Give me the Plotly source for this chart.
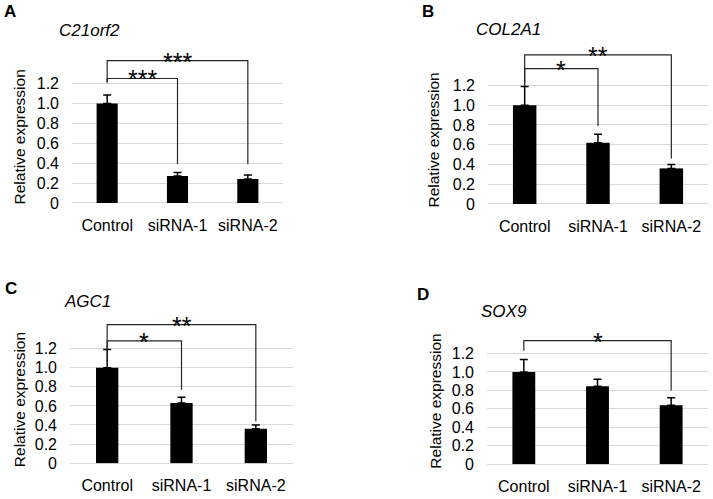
import plotly.graph_objects as go

# ---------------- data ----------------
categories = ["Control", "siRNA-1", "siRNA-2"]
y_ticks = [0, 0.2, 0.4, 0.6, 0.8, 1.0, 1.2]
y_tick_labels = ["0", "0.2", "0.4", "0.6", "0.8", "1.0", "1.2"]

panel_letters = ["A", "B", "C", "D"]
gene_names = ["C21orf2", "COL2A1", "AGC1", "SOX9"]

values_A = [1.0, 0.27, 0.24]
errors_A = [0.085, 0.035, 0.04]
values_B = [1.0, 0.62, 0.36]
errors_B = [0.19, 0.085, 0.04]
values_C = [1.0, 0.63, 0.36]
errors_C = [0.19, 0.06, 0.04]
values_D = [1.0, 0.845, 0.64]
errors_D = [0.136, 0.075, 0.08]

# significance brackets: (from index, to index, bracket height, left foot, right foot, label)
brackets_A = [(0, 1, 1.25, 1.21, 0.39, "***"), (0, 2, 1.43, 1.21, 0.39, "***")]
brackets_B = [(0, 1, 1.37, 1.20, 0.79, "*"), (0, 2, 1.51, 1.20, 0.46, "**")]
brackets_C = [(0, 1, 1.28, 1.19, 0.77, "*"), (0, 2, 1.45, 1.19, 0.44, "**")]
brackets_D = [(0, 2, 1.34, 1.23, 0.80, "*")]

all_values = [values_A, values_B, values_C, values_D]
all_errors = [errors_A, errors_B, errors_C, errors_D]
all_brackets = [brackets_A, brackets_B, brackets_C, brackets_D]

# ---------------- layout geometry (pixels) ----------------
W, H = 713, 499
# plot area: x-left, x-right, pixel of y=0, pixel of y=1.2
geom = [
    (72, 283, 206.7, 85.0),
    (488, 708, 207.7, 87.0),
    (70, 293, 471.7, 355.0),
    (487, 708, 472.7, 360.0),
]
YMAX = 1.6
# letter (x, y center), gene title (x, y center), ylabel center (x, y)
letter_pos = [(2, 12), (420, 11.5), (3, 294), (415, 300)]
title_pos = [(57, 31), (474, 30), (62, 307.5), (479, 317.5)]
ylabel_pos = [(19, 140), (433.5, 142.6), (19, 407.5), (435.5, 408.5)]
bar_widths = [0.30, 0.32, 0.30, 0.31]

FONT = "Liberation Sans, Arial, sans-serif"
GRID = "#d9d9d9"

fig = go.Figure()
layout = dict(
    width=W, height=H, margin=dict(l=0, r=0, t=0, b=0),
    paper_bgcolor="white", plot_bgcolor="white", showlegend=False,
    font=dict(family=FONT, color="black"),
)
annotations = []

for i in range(4):
    xl, xr, y0px, y12px = geom[i]
    k = (y0px - y12px) / 1.2
    top_px = y0px - YMAX * k
    xdom = [xl / W, xr / W]
    ydom = [1 - y0px / H, 1 - top_px / H]
    sfx = "" if i == 0 else str(i + 1)
    xa, ya = "x" + sfx, "y" + sfx

    layout["xaxis" + sfx] = dict(
        domain=xdom, anchor=ya, range=[-0.5, 2.5], tickmode="array",
        tickvals=[0, 1, 2], ticktext=categories, showgrid=False, zeroline=False,
        showline=False, ticks="", tickfont=dict(size=16, family=FONT, color="black"),
        ticklabelstandoff=11, fixedrange=True,
    )
    layout["yaxis" + sfx] = dict(
        domain=ydom, anchor=xa, range=[0, YMAX], tickmode="array",
        tickvals=y_ticks, ticktext=y_tick_labels, showgrid=True, gridcolor=GRID,
        gridwidth=1, zeroline=True, zerolinecolor=GRID, zerolinewidth=1,
        showline=False, ticks="", tickfont=dict(size=16, family=FONT, color="black"),
        ticklabelstandoff=12, fixedrange=True,
    )

    fig.add_trace(go.Bar(
        x=[0, 1, 2], y=all_values[i], width=bar_widths[i],
        marker=dict(color="black", line=dict(width=0)),
        error_y=dict(type="data", symmetric=False, array=all_errors[i],
                     arrayminus=[0, 0, 0], color="black", thickness=1.5, width=4),
        xaxis=xa, yaxis=ya,
    ))

    for (a, b, h, fa, fb, lab) in all_brackets[i]:
        fig.add_trace(go.Scatter(
            x=[a, a, b, b], y=[fa, h, h, fb], mode="lines",
            line=dict(color="#262626", width=1.2), xaxis=xa, yaxis=ya,
            hoverinfo="skip",
        ))
        annotations.append(dict(
            x=(a + b) / 2, y=h, xref=xa, yref=ya, text=lab, showarrow=False,
            xanchor="center", yanchor="middle", yshift=-1,
            font=dict(size=25, family=FONT, color="black"),
        ))

    lx, ly = letter_pos[i]
    annotations.append(dict(
        x=lx / W, y=1 - ly / H, xref="paper", yref="paper", text="<b>%s</b>" % panel_letters[i],
        showarrow=False, xanchor="left", yanchor="middle",
        font=dict(size=17, family=FONT, color="black"),
    ))
    tx, ty = title_pos[i]
    annotations.append(dict(
        x=tx / W, y=1 - ty / H, xref="paper", yref="paper", text="<i>%s</i>" % gene_names[i],
        showarrow=False, xanchor="left", yanchor="middle",
        font=dict(size=17, family=FONT, color="black"),
    ))
    yx, yy = ylabel_pos[i]
    annotations.append(dict(
        x=yx / W, y=1 - yy / H, xref="paper", yref="paper", text="Relative expression",
        showarrow=False, xanchor="center", yanchor="middle", textangle=-90,
        font=dict(size=15.5, family=FONT, color="black"),
    ))

layout["annotations"] = annotations
fig.update_layout(**layout)
fig.write_html(
    "out.html",
    config={"displayModeBar": False, "staticPlot": True},
    post_script="document.body.style.margin='0';document.body.style.overflow='hidden';",
)
